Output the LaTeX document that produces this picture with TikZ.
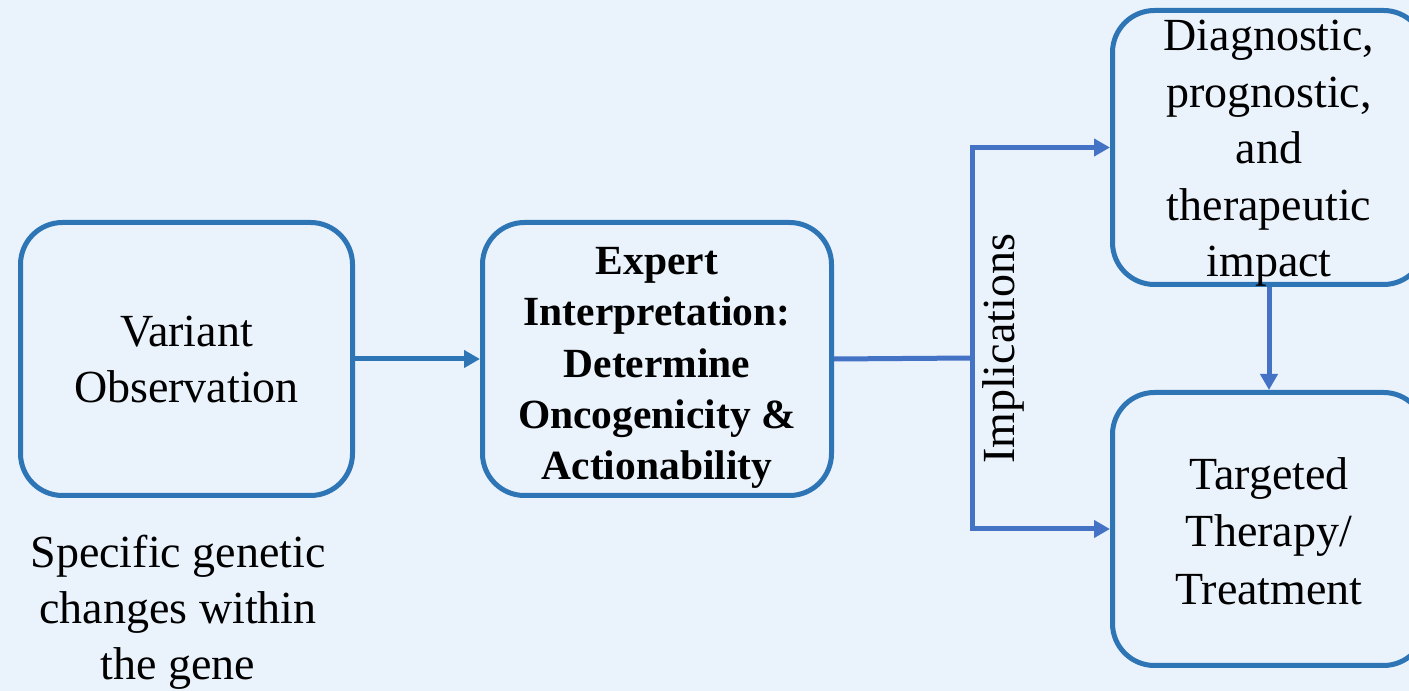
\documentclass[tikz,border=0pt]{standalone}
\usepackage{fontspec}
\setmainfont{Liberation Serif}
\usetikzlibrary{arrows.meta}
\definecolor{bg}{RGB}{234,242,252}
\definecolor{boxline}{RGB}{46,117,182}
\definecolor{conn}{RGB}{68,114,196}
\tikzset{
  roundbox/.style={draw=boxline, line width=5pt, rounded corners=42pt, inner sep=0pt},
  plaintext/.style={font=\fontsize{46}{56}\selectfont, align=center, text=black, inner sep=0pt},
  boldtext/.style={font=\fontsize{41.5}{51.3}\selectfont\bfseries, align=center, text=black, inner sep=0pt},
  conline/.style={draw=conn, line width=5pt},
  arr/.style={-{Triangle[length=16pt,width=17pt]}},
}
\begin{document}
\begin{tikzpicture}[x=1pt,y=1pt]
\fill[bg] (0,0) rectangle (1409,691);
\useasboundingbox (0,0) rectangle (1409,691);

\node[roundbox, minimum width=332pt, minimum height=273pt] (b1) at (186.5,332) {};
\node[roundbox, minimum width=349pt, minimum height=273pt] (b2) at (657,332) {};
\node[roundbox, minimum width=313pt, minimum height=274pt] (b3) at (1269,543.5) {};
\node[roundbox, minimum width=313pt, minimum height=273pt] (b4) at (1269,162) {};

\node[plaintext] (t1) at (b1) {Variant\\Observation};
\node[boldtext, yshift=-9pt] (t2) at (b2) {Expert\\Interpretation:\\Determine\\Oncogenicity \&\\Actionability};
\node[plaintext, font=\fontsize{46}{56.5}\selectfont, yshift=-6pt] (t3) at (b3) {Diagnostic,\\prognostic,\\and\\therapeutic\\impact};
\node[plaintext, font=\fontsize{46}{57.5}\selectfont, yshift=-2pt] (t4) at (b4) {Targeted\\Therapy/\\Treatment};

\node[plaintext] (note) at (178,79) {Specific genetic\\changes within\\the gene};

\coordinate (j) at (972,333);
\node[plaintext, rotate=90] (impl) at (1003,342) {Implications};

\draw[line width=5pt, draw=boxline, arr] (b1.east) -- (b2.west);
\draw[conline] (b2.east) -- (j);
\draw[conline, arr] (j) |- (b3.west);
\draw[conline, arr] (j) |- (b4.west);
\draw[conline, arr] (b3.south) -- (b4.north);
\end{tikzpicture}
\end{document}
